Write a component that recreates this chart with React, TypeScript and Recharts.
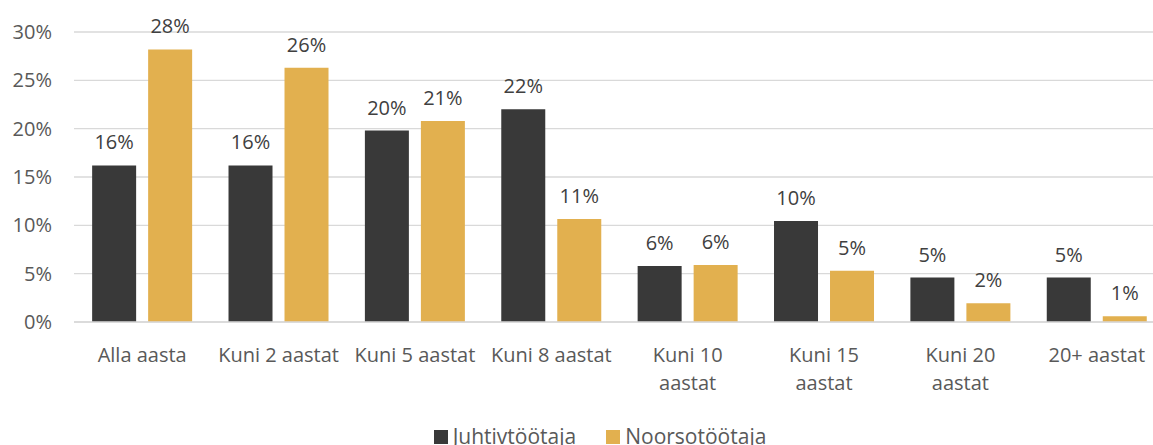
import React from "react";
import { BarChart, Bar, XAxis, YAxis, CartesianGrid, Legend, LabelList } from "recharts";

const categories = [
  "Alla aasta",
  "Kuni 2 aastat",
  "Kuni 5 aastat",
  "Kuni 8 aastat",
  "Kuni 10\naastat",
  "Kuni 15\naastat",
  "Kuni 20\naastat",
  "20+ aastat",
];
const juhtivtootaja = [16.2, 16.2, 19.8, 22.0, 5.8, 10.45, 4.6, 4.6];
const noorsotootaja = [28.2, 26.3, 20.8, 10.65, 5.9, 5.3, 1.95, 0.6];
const yTicks = [0, 5, 10, 15, 20, 25, 30];
const seriesNames = ["Juhtivtöötaja", "Noorsotöötaja"];
const seriesColors = ["#393939", "#e2b04f"];

const data = categories.map((name, i) => ({
  name,
  j: juhtivtootaja[i],
  n: noorsotootaja[i],
}));

const FONT = "'Open Sans', sans-serif";
const TEXT = "#595959";
const FS = 20;

const XTick = (props: any) => {
  const { x, y, payload } = props;
  const lines = String(payload.value).split("\n");
  return (
    <text x={x} y={y} textAnchor="middle" fill={TEXT} fontSize={FS} fontFamily={FONT}>
      {lines.map((l: string, i: number) => (
        <tspan key={i} x={x} dy={i === 0 ? 40 : 28}>
          {l}
        </tspan>
      ))}
    </text>
  );
};

const LegendContent = () => (
  <div
    style={{
      display: "flex",
      justifyContent: "center",
      fontFamily: FONT,
      fontSize: 21,
      lineHeight: "20px",
      height: 20,
      color: TEXT,
      paddingLeft: 47,
    }}
  >
    {seriesNames.map((n, i) => (
      <div key={n} style={{ display: "flex", alignItems: "flex-start", marginRight: i === 0 ? 30 : 0 }}>
        <div style={{ width: 14, height: 14, background: seriesColors[i], marginTop: 4, marginRight: 5 }} />
        <span>{n}</span>
      </div>
    ))}
  </div>
);

export default function App() {
  return (
    <div style={{ position: "absolute", left: 0, top: 0, width: 1153, height: 445, overflow: "hidden" }}>
      <BarChart
        width={1165}
        height={445}
        data={data}
        margin={{ top: 32, right: 0, left: 0, bottom: 0 }}
        barCategoryGap="13.3%"
        barGap={12}
      >
        <CartesianGrid vertical={false} stroke="#d9d9d9" strokeWidth={1.3} />
        <XAxis
          dataKey="name"
          tick={<XTick />}
          tickLine={false}
          tickSize={0}
          tickMargin={0}
          axisLine={{ stroke: "#d9d9d9", strokeWidth: 1.3 }}
          interval={0}
          height={103}
        />
        <YAxis
          domain={[0, 30]}
          ticks={yTicks}
          tickFormatter={(v: number) => `${v}%`}
          tickLine={false}
          axisLine={false}
          tickSize={0}
          tickMargin={22}
          width={74}
          tick={{ fill: TEXT, fontSize: FS, fontFamily: FONT }}
        />
        <Legend
          verticalAlign="bottom"
          align="center"
          content={<LegendContent />}
          wrapperStyle={{ left: 0, width: 1153, bottom: -1 }}
        />
        <Bar dataKey="j" name={seriesNames[0]} fill={seriesColors[0]} isAnimationActive={false}>
          <LabelList
            dataKey="j"
            position="top"
            offset={16}
            formatter={(v: number) => `${Math.round(v)}%`}
            style={{ fill: "#404040", fontSize: FS, fontFamily: FONT }}
          />
        </Bar>
        <Bar dataKey="n" name={seriesNames[1]} fill={seriesColors[1]} isAnimationActive={false}>
          <LabelList
            dataKey="n"
            position="top"
            offset={16}
            formatter={(v: number) => `${Math.round(v)}%`}
            style={{ fill: "#404040", fontSize: FS, fontFamily: FONT }}
          />
        </Bar>
      </BarChart>
    </div>
  );
}
